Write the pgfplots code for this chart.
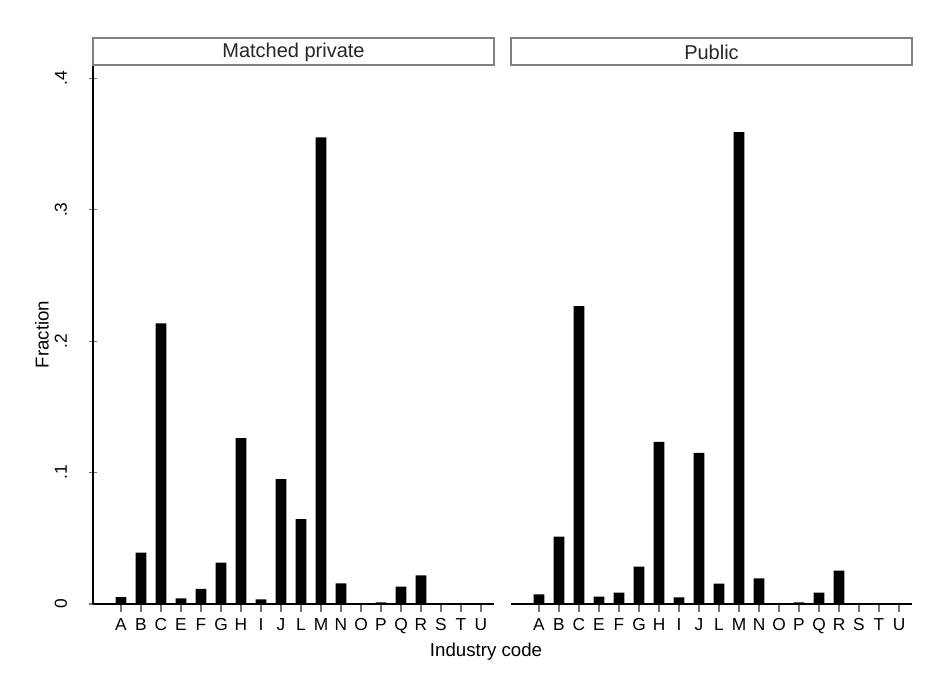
\documentclass[border=0pt]{standalone}
\usepackage{fontspec}
\setmainfont{Liberation Sans}
\usepackage{pgfplots}
\usepackage{pgfplotstable}
\pgfplotsset{compat=1.18}

% fraction of firms by industry code
\pgfplotstableread{
idx code private public
0  A 0.0053 0.0074
1  B 0.0390 0.0512
2  C 0.2135 0.2266
3  E 0.0043 0.0056
4  F 0.0116 0.0086
5  G 0.0314 0.0284
6  H 0.1262 0.1234
7  I 0.0036 0.0051
8  J 0.0950 0.1150
9  L 0.0646 0.0155
10 M 0.3550 0.3590
11 N 0.0157 0.0195
12 O 0      0
13 P 0.0013 0.0013
14 Q 0.0132 0.0086
15 R 0.0218 0.0253
16 S 0      0
17 T 0      0
18 U 0      0
}\industry

\definecolor{boxgray}{HTML}{808080}

\pgfplotsset{
  panel/.style={
    scale only axis,
    width=300.75pt, height=404.25pt,
    anchor=south west,
    xmin=-1.4, xmax=18.65, ymin=0, ymax=0.41,
    ybar, bar width=7.9pt,
    axis x line=bottom,
    xtick={0,...,18},
    xticklabels from table={\industry}{code},
    tick align=outside,
    major tick length=6pt,
    tick style={line width=0.8pt, black!55},
    x tick label style={font=\fontsize{13}{15}\selectfont, yshift=-1.5pt},
  },
}

\begin{document}
\begin{tikzpicture}
\useasboundingbox (0,0) rectangle (698.25pt,511.5pt);

\begin{axis}[panel, name=left, at={(69.75pt,58.5pt)},
    axis y line=left,
    axis line style={-, line width=0.9pt},
    ytick={0,0.1,0.2,0.3,0.4},
    yticklabels={0,.1,.2,.3,.4},
    yticklabel style={xshift=-13pt, rotate=90, anchor=south, font=\fontsize{13}{15}\selectfont},
]
\addplot[fill=black, draw=none] table[x=idx, y=private] {\industry};
\end{axis}

\begin{axis}[panel, name=right, at={(383.25pt,58.5pt)},
    axis y line=none,
    axis line style={-, line width=0.9pt},
]
\addplot[fill=black, draw=none] table[x=idx, y=public] {\industry};
\end{axis}

\foreach \ax/\lab in {left/Matched private, right/Public} {
  \draw[boxgray, line width=1.1pt, fill=white]
    (\ax.north west) rectangle ([yshift=20.25pt]\ax.north east);
  \node[font=\fontsize{15}{17}\selectfont, text=black!85]
    at ([yshift=9.6pt]\ax.north) {\lab};
}

\node[font=\fontsize{14}{16}\selectfont] at (364.5pt,22.5pt) {Industry code};
\node[font=\fontsize{14}{16}\selectfont, rotate=90] at (31.5pt,260.6pt) {Fraction};
\end{tikzpicture}
\end{document}
